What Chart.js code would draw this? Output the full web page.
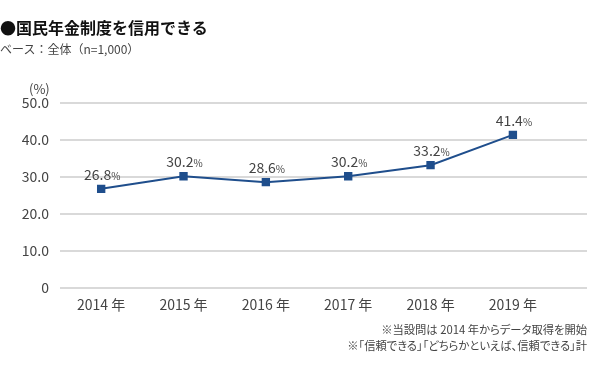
<!DOCTYPE html>
<html>
<head>
<meta charset="utf-8">
<script src="https://cdn.jsdelivr.net/npm/chart.js@4/dist/chart.umd.min.js"></script>
<style>
  body { margin:0; background:#fff; font-family:"Noto Sans CJK JP","Noto Sans",sans-serif; color:#222; }
  #wrap { position:relative; width:600px; height:368px; }
  canvas { position:absolute; left:0; top:0; }
  .t { position:absolute; white-space:nowrap; }
  #title { left:0; top:15px; font-size:16px; font-weight:bold; color:#111; }
  #sub { left:0; top:40px; font-size:12px; color:#444; }
  #unit { left:29px; top:79px; font-size:13px; color:#444; }
  .note { right:13px; font-size:11.3px; color:#444; font-feature-settings:"palt"; }
</style>
</head>
<body>
<div id="wrap">
  <canvas id="chart" width="600" height="368"></canvas>
  <div class="t" id="title">●国民年金制度を信用できる</div>
  <div class="t" id="sub">ベース：全体（n=1,000）</div>
  <div class="t" id="unit">(%)</div>
  <div class="t note" style="top:321px">※当設問は 2014 年からデータ取得を開始</div>
  <div class="t note" style="top:337px">※「信頼できる」「どちらかといえば、信頼できる」計</div>
</div>
<script>
const years = [2014, 2015, 2016, 2017, 2018, 2019]
const trust = [26.8, 30.2, 28.6, 30.2, 33.2, 41.4]
const yTicks = [0, 10, 20, 30, 40, 50]

const FONT = '"Noto Sans CJK JP","Noto Sans",sans-serif'

const labelPlugin = {
  id: 'valueLabels',
  afterDatasetsDraw(chart) {
    let ctx = chart.ctx
    let meta = chart.getDatasetMeta(0)
    ctx.save()
    ctx.fillStyle = '#444'
    ctx.textBaseline = 'alphabetic'
    meta.data.forEach((pt, i) => {
      let num = trust[i].toFixed(1)
      ctx.font = '14px ' + FONT
      let w1 = ctx.measureText(num).width
      ctx.font = '10px ' + FONT
      let w2 = ctx.measureText('%').width
      let x0 = pt.x - (w1 + w2) / 2 + 1
      let y = pt.y - 9
      ctx.textAlign = 'left'
      ctx.font = '14px ' + FONT
      ctx.fillText(num, x0, y)
      ctx.font = '10px ' + FONT
      ctx.fillText('%', x0 + w1, y)
    })
    ctx.restore()
  }
}

new Chart(document.getElementById('chart'), {
  type: 'line',
  data: {
    datasets: [{
      data: years.map((y, i) => ({ x: y, y: trust[i] })),
      borderColor: '#1f4e8c',
      backgroundColor: '#1f4e8c',
      borderWidth: 2,
      pointStyle: 'rect',
      pointRadius: 4.5,
      tension: 0
    }]
  },
  options: {
    responsive: false,
    animation: false,
    layout: { padding: { top: 103, right: 13, left: 0, bottom: 0 } },
    plugins: { legend: { display: false }, tooltip: { enabled: false } },
    scales: {
      x: {
        type: 'linear',
        min: 2013.5,
        max: 2019.9,
        afterBuildTicks: s => { s.ticks = years.map(v => ({ value: v })) },
        afterFit: s => { s.height = 80 },
        grid: { display: false, drawTicks: false },
        border: { display: false },
        ticks: {
          padding: 8,
          color: '#444',
          font: { family: FONT, size: 14 },
          callback: v => v + ' 年'
        }
      },
      y: {
        min: 0,
        max: 50,
        afterBuildTicks: s => { s.ticks = yTicks.map(v => ({ value: v })) },
        afterFit: s => { s.width = 60 },
        grid: { color: '#d9d9d9', lineWidth: 2, drawTicks: false },
        border: { display: false },
        ticks: {
          padding: 11,
          color: '#444',
          font: { family: FONT, size: 14 },
          callback: v => v === 0 ? '0' : v.toFixed(1)
        }
      }
    }
  },
  plugins: [labelPlugin]
})
</script>
</body>
</html>
